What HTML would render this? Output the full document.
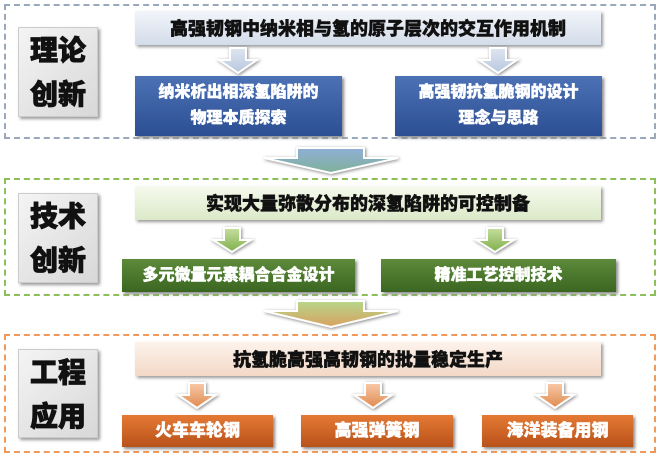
<!DOCTYPE html>
<html><head><meta charset="utf-8"><style>
body{margin:0;width:660px;height:457px;background:#fff;position:relative;overflow:hidden;font-family:"Liberation Sans","Noto Sans CJK SC",sans-serif;font-weight:900}
.a{position:absolute;box-sizing:border-box}
.sec{border:2px dashed}
.lab{background:linear-gradient(135deg,#f4f4f4,#d8d8d8);border:1px solid #ccc;box-shadow:2px 2px 3px #999;font-size:28px;line-height:44px;text-align:center;color:#111;-webkit-text-stroke:0.8px #111}
.bar{font-size:18px;color:#111;text-align:center;box-shadow:2px 2px 3px #999;display:flex;align-items:center;justify-content:center;-webkit-text-stroke:0.5px #111}
.box{color:#fff;text-align:center;box-shadow:2px 2px 3px #888;display:flex;align-items:center;justify-content:center;font-size:16px;line-height:26px;-webkit-text-stroke:0.4px #fff}
svg{position:absolute}
</style></head><body>
<div class="a sec" style="left:4px;top:4px;width:652px;height:135px;border-color:#9aa8bb"></div>
<div class="a sec" style="left:4px;top:178px;width:652px;height:118px;border-color:#8cbf5a"></div>
<div class="a sec" style="left:4px;top:334px;width:652px;height:119px;border-color:#ef9a5a"></div>

<div class="a lab" style="left:18px;top:27px;width:80px;height:90px;padding-top:1px">理论<br>创新</div>
<div class="a lab" style="left:18px;top:193px;width:80px;height:90px;padding-top:1px">技术<br>创新</div>
<div class="a lab" style="left:18px;top:349px;width:80px;height:89px;padding-top:1px">工程<br>应用</div>

<div class="a bar" style="left:135px;top:11px;width:466px;height:34px;background:linear-gradient(#f2f5fa,#d3dcea)">高强韧钢中纳米相与氢的原子层次的交互作用机制</div>
<div class="a bar" style="left:135px;top:186px;width:466px;height:34px;background:linear-gradient(#f6faee,#dbe9c8)">实现大量弥散分布的深氢陷阱的可控制备</div>
<div class="a bar" style="left:135px;top:342px;width:466px;height:34px;background:linear-gradient(#fdf3ec,#f3d8c6)">抗氢脆高强高韧钢的批量稳定生产</div>

<div class="a box" style="left:135px;top:76px;width:207px;height:60px;background:linear-gradient(#4d71b5,#2c4f94)">纳米析出相深氢陷阱的<br>物理本质探索</div>
<div class="a box" style="left:395px;top:76px;width:207px;height:60px;background:linear-gradient(#4d71b5,#2c4f94)">高强韧抗氢脆钢的设计<br>理念与思路</div>
<div class="a box" style="left:122px;top:259px;width:233px;height:33px;background:linear-gradient(#5d8a3a,#3a6621)">多元微量元素耦合合金设计</div>
<div class="a box" style="left:381px;top:259px;width:235px;height:33px;background:linear-gradient(#5d8a3a,#3a6621)">精准工艺控制技术</div>
<div class="a box" style="left:122px;top:415px;width:151px;height:32px;background:linear-gradient(#e57a34,#b9521a);font-size:17px">火车车轮钢</div>
<div class="a box" style="left:301px;top:415px;width:152px;height:32px;background:linear-gradient(#e57a34,#b9521a);font-size:17px">高强弹簧钢</div>
<div class="a box" style="left:482px;top:415px;width:151px;height:32px;background:linear-gradient(#e57a34,#b9521a);font-size:17px">海洋装备用钢</div>

<svg width="660" height="457" style="left:0;top:0">
<defs>
<linearGradient id="gb" x1="0" y1="0" x2="0" y2="1"><stop offset="0" stop-color="#dfe6f2"/><stop offset="1" stop-color="#b7c6de"/></linearGradient>
<linearGradient id="gg" x1="0" y1="0" x2="0" y2="1"><stop offset="0" stop-color="#c6df9f"/><stop offset="1" stop-color="#7fae4c"/></linearGradient>
<linearGradient id="go" x1="0" y1="0" x2="0" y2="1"><stop offset="0" stop-color="#f7caa8"/><stop offset="1" stop-color="#e08a4f"/></linearGradient>
<linearGradient id="b1" x1="0" y1="0" x2="0" y2="1"><stop offset="0" stop-color="#8fb0d6"/><stop offset="1" stop-color="#7fb09a"/></linearGradient>
<linearGradient id="b2" x1="0" y1="0" x2="0" y2="1"><stop offset="0" stop-color="#b6d88a"/><stop offset="1" stop-color="#d9a060"/></linearGradient>
</defs>
<g stroke="#fff" stroke-width="2" style="filter:drop-shadow(1px 1px 1.5px #888)">
<path d="M230 48h16v12h11l-19 13l-19-13h11z" fill="url(#gb)"/>
<path d="M490 48h16v12h11l-19 13l-19-13h11z" fill="url(#gb)"/>
<path d="M224 228h16v12h11l-19 12l-19-12h11z" fill="url(#gg)"/>
<path d="M487 228h16v12h11l-19 12l-19-12h11z" fill="url(#gg)"/>
<path d="M189 383h16v12h11l-19 13l-19-13h11z" fill="url(#go)"/>
<path d="M365 383h16v12h11l-19 13l-19-13h11z" fill="url(#go)"/>
<path d="M547 383h16v12h11l-19 13l-19-13h11z" fill="url(#go)"/>
<path d="M297 148h67v10h34l-67 15l-67-15h33z" fill="url(#b1)"/>
<path d="M297 301h67v10h34l-67 16l-67-16h33z" fill="url(#b2)"/>
</g>
</svg>
</body></html>
